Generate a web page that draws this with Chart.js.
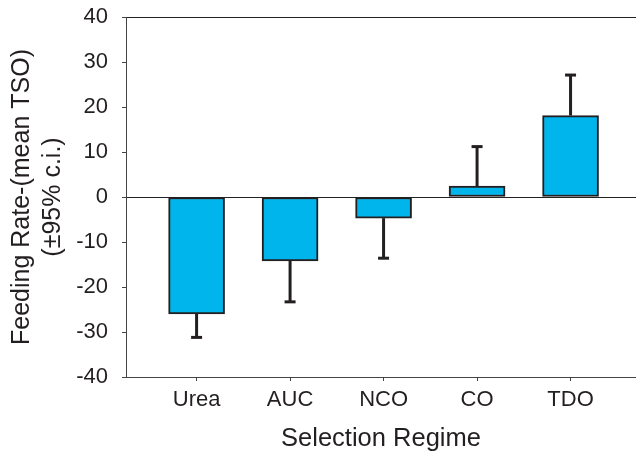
<!DOCTYPE html>
<html><head><meta charset="utf-8">
<script src="https://cdn.jsdelivr.net/npm/chart.js@4"></script>
<style>html,body{margin:0;padding:0;background:#fff}#wrap{width:636px;height:454px;position:relative}</style>
</head><body><div id="wrap"><canvas id="c"></canvas></div>
<script>
const categories = ['Urea', 'AUC', 'NCO', 'CO', 'TDO'];
const meanValues = [-26.0, -14.2, -4.7, 2.4, 18.1];
const ciEnds = [-31.2, -23.3, -13.6, 11.2, 27.1];
const yTicks = [-40, -30, -20, -10, 0, 10, 20, 30, 40];

const ink = '#231f20';
const FONT = "'Liberation Sans', Arial, sans-serif";

const errorBars = {
  id: 'errorBars',
  afterDatasetsDraw(chart) {
    const meta = chart.getDatasetMeta(0);
    const ys = chart.scales.y;
    const ctx = chart.ctx;
    ctx.save();
    ctx.strokeStyle = ink;
    ctx.lineWidth = 3;
    ctx.lineCap = 'butt';
    meta.data.forEach((bar, i) => {
      const x = bar.x;
      const y0 = ys.getPixelForValue(meanValues[i]);
      const y1 = ys.getPixelForValue(ciEnds[i]);
      ctx.beginPath();
      ctx.moveTo(x, y0);
      ctx.lineTo(x, y1);
      ctx.stroke();
      ctx.beginPath();
      ctx.moveTo(x - 5.5, y1);
      ctx.lineTo(x + 5.5, y1);
      ctx.stroke();
    });
    ctx.restore();
  }
};

new Chart(document.getElementById('c'), {
  type: 'bar',
  data: {
    datasets: [{
      data: categories.map((c, i) => ({ x: i, y: meanValues[i] })),
      backgroundColor: '#00b5ec',
      borderColor: ink,
      borderWidth: 2,
      borderSkipped: false,
      barThickness: 56
    }]
  },
  options: {
    responsive: true,
    maintainAspectRatio: false,
    animation: false,
    layout: { padding: { top: 17, right: 0, bottom: 0, left: 0 } },
    plugins: { legend: { display: false }, tooltip: { enabled: false } },
    scales: {
      x: {
        type: 'linear',
        offset: false,
        min: -0.755,
        max: 4.7,
        afterBuildTicks: s => { s.ticks = categories.map((c, i) => ({ value: i })); },
        afterFit: s => { s.height = 77; s.paddingLeft = 0; s.paddingRight = 0; },
        grid: { offset: false, drawOnChartArea: false, drawTicks: true, tickLength: 4, color: '#444' },
        border: { display: true, color: '#444', width: 1 },
        ticks: {
          callback: v => categories[v] ?? '',
          color: ink, font: { family: FONT, size: 22 }, padding: 6, maxRotation: 0, autoSkip: false
        },
        title: { display: true, text: 'Selection Regime', color: ink, font: { family: FONT, size: 25.5, lineHeight: 1.0 }, padding: { top: 0, bottom: 2 } }
      },
      y: {
        min: -40, max: 40,
        afterBuildTicks: s => { s.ticks = yTicks.map(v => ({ value: v })); },
        afterFit: s => { s.width = 126; s.paddingTop = 0; s.paddingBottom = 0; },
        grid: {
          color: c => (c.tick && (c.tick.value === 0 || c.tick.value === 40)) ? '#222' : 'rgba(0,0,0,0)',
          tickColor: '#444', tickLength: 4, drawTicks: true
        },
        border: { display: true, color: '#444', width: 1 },
        ticks: { color: ink, font: { family: FONT, size: 22 }, padding: 14 },
        title: {
          display: true, text: ['Feeding Rate-(mean TSO)', '(±95% c.i.)'], color: ink,
          font: { family: FONT, size: 25, lineHeight: 1.22 }, padding: { top: 7, bottom: 0 }
        }
      }
    }
  },
  plugins: [errorBars]
});
</script></body></html>
